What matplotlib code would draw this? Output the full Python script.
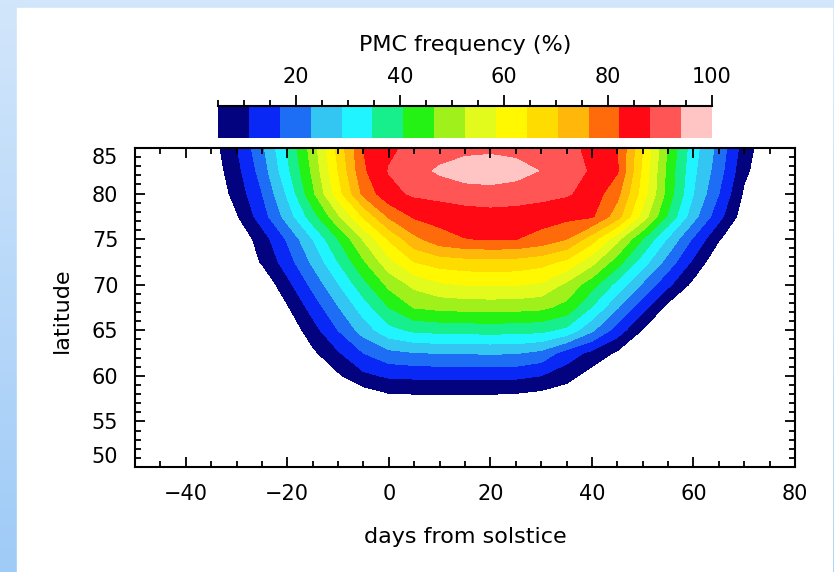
import numpy as np
import matplotlib
matplotlib.use("Agg")
import matplotlib.pyplot as plt
import matplotlib.ticker as mticker
from matplotlib.colors import ListedColormap, BoundaryNorm, LinearSegmentedColormap
from matplotlib.patches import Rectangle

# grid
days = [-40, -35, -30, -25, -20, -15, -10, -5, 0, 5, 10, 15, 20, 25, 30, 35, 40, 45, 50, 55, 60, 65, 70, 75, 80]
lats = [85, 82.5, 80, 77.5, 75, 72.5, 70, 67.5, 65, 62.5, 60, 57.5, 55, 50]

# PMC frequency (%) per latitude row, one value per day column
freq_85 = [0, 2, 10.6, 21.4, 35.2, 49.5, 66.3, 82.2, 87.1, 89.5, 91, 92, 92.5, 92, 91, 89.5, 86.8, 82.5, 64.4, 45.9, 31.1, 20.8, 8.1, 0, 0]
freq_82 = [0, 1, 8.9, 19.4, 33.3, 47.8, 64.4, 81.2, 88.4, 91.8, 95, 97.5, 98, 96.5, 93.8, 91, 87.3, 82.8, 63, 44.5, 30, 19.5, 6.3, 0, 0]
freq_80 = [0, 0, 7.1, 16.7, 29.6, 45.3, 61.7, 77.8, 86.4, 89, 90, 91, 91.5, 91, 90, 88.8, 85.6, 78, 61.5, 44, 28.75, 16.9, 4, 0, 0]
freq_77 = [0, 0, 4.4, 13.9, 25.4, 38, 51.4, 65.2, 77.1, 83, 84.2, 85.3, 85.8, 85.5, 84.8, 83.8, 83, 73, 56, 39.7, 24.9, 13, 1.6, 0, 0]
freq_75 = [0, 0, 0, 7.9, 17.6, 28.75, 40.6, 53, 65, 74.5, 80, 82, 82.5, 82.3, 80, 76.25, 67, 54.2, 40.6, 27.8, 16, 5.4, 0, 0, 0]
freq_72 = [0, 0, 0, 5.5, 14, 24, 34.7, 45.7, 56.4, 64.4, 67, 68, 68.3, 68, 66.5, 63, 54.5, 43.4, 31.6, 20.2, 9.7, 0, 0, 0, 0]
freq_70 = [0, 0, 0, 0, 9.1, 18.5, 28.3, 38.6, 48, 54, 57.5, 58.7, 59, 58.8, 57.5, 51, 42.9, 32.6, 21.8, 12.2, 3.2, 0, 0, 0, 0]
freq_67 = [0, 0, 0, 0, 4.3, 13.3, 22.4, 31.6, 40.6, 46.8, 48, 48.5, 48.7, 48.5, 47.8, 44.6, 34.3, 23.3, 12.9, 3, 0, 0, 0, 0, 0]
freq_65 = [0, 0, 0, 0, 0.3, 8.4, 16.9, 25.4, 32.7, 35.8, 36.5, 36.8, 37, 36.8, 36.2, 33, 23.8, 14.1, 4.6, 0, 0, 0, 0, 0, 0]
freq_62 = [0, 0, 0, 0, 0, 3.7, 10.2, 16.9, 21.1, 22.5, 23, 23.2, 23.3, 23.2, 21, 14.1, 9.3, 3.9, 0, 0, 0, 0, 0, 0, 0]
freq_60 = [0, 0, 0, 0, 0, 0, 4, 9.5, 11.8, 12.2, 12.4, 12.5, 12.5, 12.3, 10.9, 7.5, 2, 0, 0, 0, 0, 0, 0, 0, 0]
freq_57 = [0, 0, 0, 0, 0, 0, 0, 0, 2.9, 3.2, 3.2, 3.2, 3.2, 2.8, 1.7, 0, 0, 0, 0, 0, 0, 0, 0, 0, 0]
freq_55 = [0] * 25
freq_50 = [0] * 25

levels = np.linspace(5, 100, 17)
colors = ["#03037f", "#0a28f5", "#1e6ef5", "#34c6f2", "#20f4ff", "#16ef8c",
          "#24f214", "#a0f01c", "#e2fa1c", "#fff800", "#ffdc00", "#ffb80a",
          "#ff6a0a", "#ff0a14", "#ff5555", "#ffc4c4"]

Z = np.array([freq_85, freq_82, freq_80, freq_77, freq_75, freq_72, freq_70,
              freq_67, freq_65, freq_62, freq_60, freq_57, freq_55, freq_50])

W, H = 834, 572
fig = plt.figure(figsize=(W / 100, H / 100), dpi=100)

# light blue frame with white panel
bg = fig.add_axes([0, 0, 1, 1])
grad = LinearSegmentedColormap.from_list("bg", ["#d2e6fb", "#9fcbf7"])
bg.imshow(np.linspace(0, 1, 100).reshape(-1, 1), aspect="auto", cmap=grad,
          extent=[0, 1, 0, 1])
bg.add_patch(Rectangle((17 / W, 0), (832 - 17) / W, 1 - 8 / H,
                       transform=bg.transAxes, color="white"))
bg.set_axis_off()

cmap = ListedColormap(colors)
norm = BoundaryNorm(levels, cmap.N)

ax = fig.add_axes([135 / W, 1 - 467 / H, (795 - 135) / W, (467 - 148) / H])
cf = ax.contourf(days, lats, Z, levels=levels, cmap=cmap, norm=norm)
ax.set_xlim(-50, 80)
ax.set_ylim(50, 85)
ax.set_xticks([-40, -20, 0, 20, 40, 60, 80])
ax.set_yticks([50, 55, 60, 65, 70, 75, 80, 85])
ax.xaxis.set_minor_locator(mticker.MultipleLocator(5))
ax.yaxis.set_minor_locator(mticker.MultipleLocator(1))
ax.tick_params(which="both", direction="in", top=True, right=True, width=1.3,
               labelsize=15, colors="black")
ax.tick_params(which="major", length=7)
ax.tick_params(which="minor", length=4)
ax.tick_params(axis="x", pad=12)
ax.tick_params(axis="y", pad=12)
for s in ax.spines.values():
    s.set_linewidth(1.5)
yt = ax.yaxis.get_major_ticks()
yt[-1].label1.set_verticalalignment("top")
yt[0].label1.set_verticalalignment("bottom")

# colour bar on top
cax = fig.add_axes([218 / W, 1 - 138 / H, (712 - 218) / W, (138 - 106) / H])
cb = fig.colorbar(cf, cax=cax, orientation="horizontal", ticks=[20, 40, 60, 80, 100])
cb.outline.set_visible(False)
cax.xaxis.set_ticks_position("top")
cax.xaxis.set_minor_locator(mticker.MultipleLocator(5))
cax.tick_params(which="both", direction="out", width=1.3, labelsize=15, pad=6)
cax.tick_params(which="major", length=8)
cax.tick_params(which="minor", length=4)
cax.axhline(1, color="black", lw=1.5, clip_on=False)

fig.text(465 / W, 1 - 45 / H, "PMC frequency (%)", ha="center", va="center", fontsize=16)
fig.text(465 / W, 1 - 537 / H, "days from solstice", ha="center", va="center", fontsize=16)
fig.text(62 / W, 1 - 310 / H, "latitude", ha="center", va="center", fontsize=16,
         rotation=90)

fig.savefig("out.png", dpi=100)
plt.close(fig)
